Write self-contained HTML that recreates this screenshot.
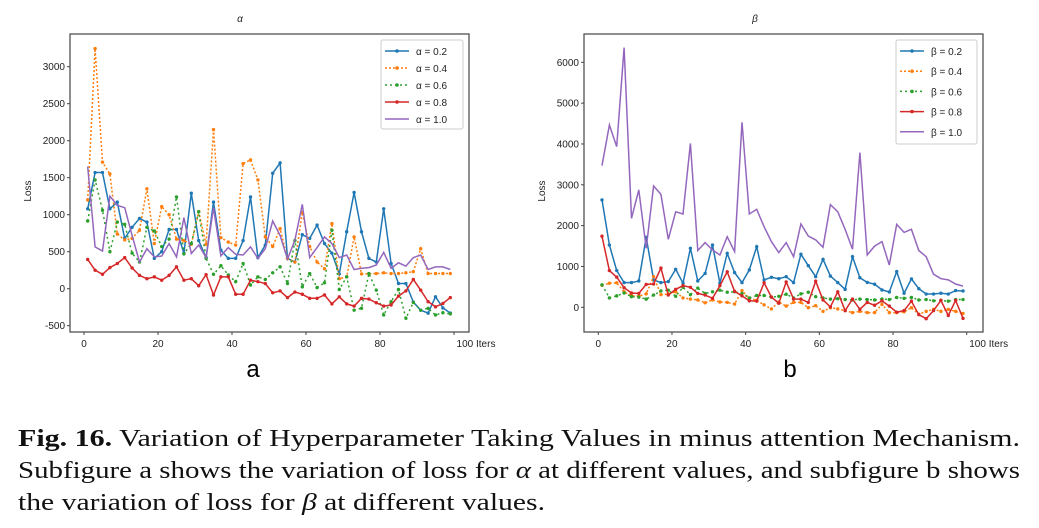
<!DOCTYPE html>
<html><head><meta charset="utf-8">
<style>
html,body{margin:0;padding:0;background:#fff;}
svg{display:block;}
.tick{font-family:"Liberation Sans","Noto Sans CJK SC",sans-serif;font-size:10px;fill:#222;}
.cap{font-family:"Liberation Serif",serif;font-size:24px;fill:#111;}
</style></head>
<body>
<svg id="fig" width="1039" height="528" viewBox="0 0 1039 528" xmlns="http://www.w3.org/2000/svg">
<text x="240" y="22" class="tick" font-size="12" font-style="italic" text-anchor="middle">α</text>
<text x="755" y="22" class="tick" font-size="12" font-style="italic" text-anchor="middle">β</text>
<text x="253" y="377" font-family="Liberation Sans,sans-serif" font-size="24" text-anchor="middle">a</text>
<text x="790" y="377" font-family="Liberation Sans,sans-serif" font-size="24" text-anchor="middle">b</text>
<text x="18" y="446" class="cap" textLength="1002" lengthAdjust="spacingAndGlyphs"><tspan font-weight="bold">Fig. 16.</tspan> Variation of Hyperparameter Taking Values in minus attention Mechanism.</text>
<text x="18" y="478" class="cap" textLength="1002" lengthAdjust="spacingAndGlyphs">Subfigure a shows the variation of loss for <tspan font-style="italic">α</tspan> at different values, and subfigure b shows</text>
<text x="18" y="510" class="cap" textLength="527" lengthAdjust="spacingAndGlyphs">the variation of loss for <tspan font-style="italic">β</tspan> at different values.</text>
</svg>
<script>
const iters = [];
for (let i = 1; i <= 99; i += 2) iters.push(i);
const xTicks = [0, 20, 40, 60, 80, 100];
const yTicksA = [-500, 0, 500, 1000, 1500, 2000, 2500, 3000];
const yTicksB = [0, 1000, 2000, 3000, 4000, 5000, 6000];
const labelsA = ["α = 0.2", "α = 0.4", "α = 0.6", "α = 0.8", "α = 1.0"];
const labelsB = ["β = 0.2", "β = 0.4", "β = 0.6", "β = 0.8", "β = 1.0"];
const a02 = [1080,1570,1570,1080,1170,680,830,950,900,410,500,800,800,480,1290,650,420,1170,520,410,410,650,1240,420,590,1560,1700,410,360,730,680,860,610,480,200,770,1300,770,410,360,1080,340,70,70,-180,-290,-330,-110,-260,-330];
const a04 = [1200,3245,1710,1550,740,660,680,790,1350,610,1110,1000,670,650,600,1040,600,2150,690,630,590,1690,1740,1470,700,570,810,410,360,1030,570,360,270,880,135,160,700,200,200,205,215,205,205,215,230,540,205,205,205,205];
const a06 = [915,1470,1060,500,900,870,480,360,830,780,570,670,1240,470,610,1040,410,195,310,185,95,340,50,160,125,215,295,70,650,25,205,15,80,790,-10,160,-290,-265,205,-20,-355,-175,-10,-400,-185,-290,-265,-355,-325,-340];
const a08 = [395,250,195,285,340,420,280,180,135,160,115,180,295,115,135,40,190,-85,160,160,-75,-75,115,95,70,-55,-30,-120,-45,-75,-130,-130,-85,-205,-110,-205,-235,-130,-140,-190,-235,-220,-100,-30,125,-20,-175,-245,-200,-120];
const a10 = [1650,565,510,1250,1125,1095,720,360,540,430,440,610,430,960,475,590,420,1095,445,555,465,455,565,410,540,915,720,400,655,1140,420,555,700,610,420,455,260,275,285,320,490,275,350,305,420,455,260,295,295,260];
const b02 = [2630,1525,900,605,605,645,1715,670,605,630,930,590,1445,645,830,1525,590,1320,850,605,915,1485,670,735,700,750,605,1300,1020,750,1175,765,605,440,1240,725,610,565,425,375,875,345,695,455,325,325,345,325,410,400];
const b04 = [540,590,600,380,290,270,330,750,310,320,380,230,200,180,110,180,130,120,80,410,220,170,60,-40,130,30,120,120,-10,40,-100,-10,-40,-80,-130,-100,-130,-130,70,-130,-130,-110,-10,-170,-100,-50,-100,-50,-100,-150];
const b06 = [550,230,280,350,260,250,200,300,400,420,270,490,310,470,340,380,420,370,380,340,230,290,290,250,270,320,230,330,370,260,230,200,210,190,180,200,190,180,200,190,240,220,240,180,190,160,170,150,190,190];
const b08 = [1740,900,740,480,350,340,560,570,960,300,440,530,490,340,300,220,530,870,390,280,160,150,600,250,100,620,200,200,120,640,180,10,380,-80,200,-50,120,50,160,30,-120,-80,150,-180,-280,-80,170,-200,170,-270];
const b10 = [3470,4465,3935,6360,2180,2875,1445,2970,2770,1665,2340,2285,4015,1390,1585,1405,1280,1730,1365,4530,2285,2400,1975,1610,1340,1585,1240,2040,1745,1650,1470,2515,2340,1910,1420,3790,1280,1500,1610,1035,2030,1835,1910,1390,1240,810,700,670,570,520];

const NS = "http://www.w3.org/2000/svg";
const svg = document.getElementById('fig');
const colors = ["#1f77b4","#ff7f0e","#2ca02c","#d62728","#9467bd"];
const dashes = [null,"2,2","2,3",null,null];
const markers = [true,true,true,true,false];

function mk(tag, attrs, parent) {
  const e = document.createElementNS(NS, tag);
  for (const k in attrs) e.setAttribute(k, attrs[k]);
  (parent || svg).appendChild(e);
  return e;
}

function panel(cfg) {
  const g = mk('g', {});
  
  
  const xs = v => cfg.x0 + (v - 0) * (cfg.x100 - cfg.x0) / 100;
  const ys = v => cfg.yZero + (cfg.yTop - cfg.yZero) * v / cfg.topVal;
  const frame = mk('rect', {x: cfg.fx0, y: cfg.fy0, width: cfg.fx1 - cfg.fx0, height: cfg.fy1 - cfg.fy0, fill: 'none', stroke: '#444', 'stroke-width': 1.2}, g);
  
  
  xTicks.forEach(t => {
    const x = xs(t);
    mk('line', {x1: x, x2: x, y1: cfg.fy1, y2: cfg.fy1 + 3, stroke: '#444'}, g);
    const tx = mk('text', {x: x, y: cfg.fy1 + 15, 'text-anchor': 'middle', class: 'tick'}, g);
    tx.textContent = t === 100 ? '100 Iters' : String(t);
    if (t === 100) tx.setAttribute('x', x + 22);
    
    
  });
  cfg.yTicks.forEach(t => {
    const y = ys(t);
    mk('line', {x1: cfg.fx0 - 3, x2: cfg.fx0, y1: y, y2: y, stroke: '#444'}, g);
    const ty = mk('text', {x: cfg.fx0 - 5, y: y + 3.5, 'text-anchor': 'end', class: 'tick'}, g);
    ty.textContent = String(t);
    
    
  });
  const yl = mk('text', {x: 0, y: 0, transform: `translate(${cfg.fx0 - 39},${(cfg.fy0 + cfg.fy1) / 2 + 8}) rotate(-90)`, 'text-anchor': 'middle', class: 'tick', 'font-size': 11}, g);
  yl.textContent = 'Loss';
  
  
  cfg.series.forEach((s, i) => {
    const pts = s.map((v, j) => xs(iters[j]).toFixed(1) + ',' + ys(v).toFixed(1)).join(' ');
    const pl = mk('polyline', {points: pts, fill: 'none', stroke: colors[i], 'stroke-width': 1.5}, g);
    if (dashes[i]) pl.setAttribute('stroke-dasharray', dashes[i]);
    
    
    if (markers[i]) s.forEach((v, j) => {
      const c = mk('circle', {cx: xs(iters[j]), cy: ys(v), r: 1.7, fill: colors[i]}, g);
      
      
    });
  });
  const L = cfg.leg;
  const lg = mk('g', {}, g);
  
  
  mk('rect', {x: L.x, y: L.y, width: L.w, height: L.h, rx: 2, fill: '#fff', stroke: '#ccc'}, lg);
  cfg.labels.forEach((lab, i) => {
    const y = L.y + 11 + i * L.step;
    const ll = mk('line', {x1: L.x + 4, x2: L.x + 28, y1: y, y2: y, stroke: colors[i], 'stroke-width': 1.5}, lg);
    if (dashes[i]) ll.setAttribute('stroke-dasharray', dashes[i]);
    if (markers[i]) mk('circle', {cx: L.x + 16, cy: y, r: 1.8, fill: colors[i]}, lg);
    const t = mk('text', {x: L.x + 35, y: y + 4, class: 'tick', 'font-size': 11}, lg);
    t.textContent = lab;
    
    
  });
}

panel({name: 'chart-alpha', fx0: 70, fx1: 469, fy0: 34, fy1: 332, x0: 84, x100: 454,
  yZero: 288.7, yTop: 66.7, topVal: 3000, yTicks: yTicksA, labels: labelsA,
  series: [a02, a04, a06, a08, a10], leg: {x: 381, y: 40, w: 82, h: 89, step: 17}});
panel({name: 'chart-beta', fx0: 584, fx1: 983, fy0: 34, fy1: 332, x0: 598.3, x100: 966.7,
  yZero: 307.3, yTop: 62.3, topVal: 6000, yTicks: yTicksB, labels: labelsB,
  series: [b02, b04, b06, b08, b10], leg: {x: 896, y: 40, w: 81, h: 104, step: 20.2}});
</script>
</body></html>
